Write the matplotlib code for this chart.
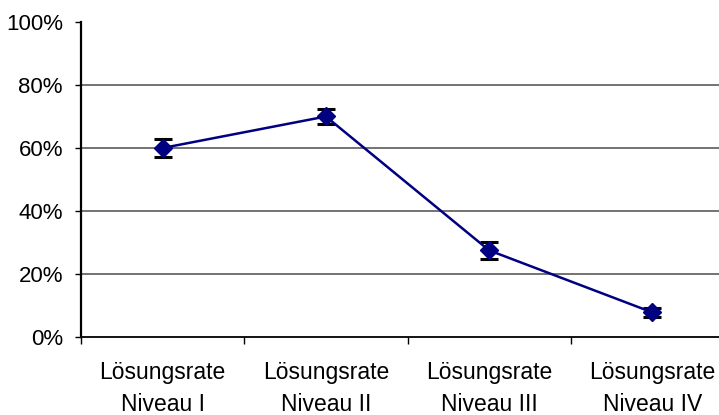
import numpy as np
import matplotlib.pyplot as plt
from matplotlib.ticker import PercentFormatter

plt.rcParams['font.family'] = ['Liberation Sans', 'DejaVu Sans']

categories = ['Lösungsrate\nNiveau I', 'Lösungsrate\nNiveau II',
              'Lösungsrate\nNiveau III', 'Lösungsrate\nNiveau IV']
rates = [60, 70, 27.5, 7.8]
errors = [2.8, 2.5, 2.7, 1.3]

fig = plt.figure(figsize=(7.19, 4.15), dpi=100)
ax = fig.add_axes([81 / 719, 78 / 415, 653 / 719, 315 / 415])

x = np.arange(len(categories))
ax.errorbar(x, rates, yerr=errors, color='#000080', ecolor='black',
            elinewidth=1.8, capsize=6.5, capthick=2.2, marker='D',
            markersize=9, linewidth=1.8, zorder=3)

ax.set_xlim(-0.5, len(categories) - 0.5)
ax.set_ylim(0, 100)
ax.set_yticks([0, 20, 40, 60, 80, 100])
ax.yaxis.set_major_formatter(PercentFormatter(decimals=0))
for v in [20, 40, 60, 80]:
    ax.axhline(v, color='#4d4d4d', linewidth=1.1, zorder=1)

ax.set_xticks(np.arange(len(categories) + 1) - 0.5, minor=False)
ax.set_xticklabels([])
ax.set_xticks(x, minor=True)
ax.set_xticklabels(categories, minor=True, linespacing=1.5)
ax.tick_params(axis='x', which='minor', length=0, pad=17, labelsize=16.5)
ax.tick_params(axis='x', which='major', length=5, width=1, direction='out')
ax.tick_params(axis='y', length=4, width=1, pad=9, labelsize=16)

for s in ['top', 'right']:
    ax.spines[s].set_visible(False)
ax.spines['left'].set_linewidth(1.6)
ax.spines['bottom'].set_linewidth(1.3)

fig.savefig('out.png', dpi=100)
